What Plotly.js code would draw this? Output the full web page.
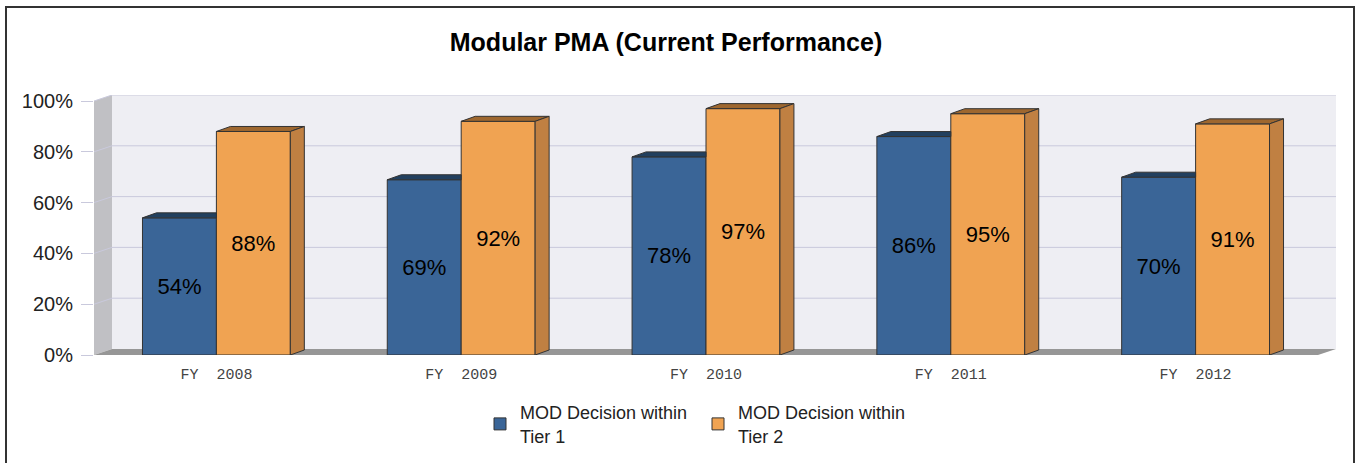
<!DOCTYPE html>
<html>
<head>
<meta charset="utf-8">
<script src="https://cdn.plot.ly/plotly-3.0.1.min.js"></script>
<style>
  body { margin: 0; background: #fff; }
  #chart { width: 1355px; height: 463px; }
  #frame { position: absolute; left: 5px; top: 6px; width: 1346px; height: 480px;
           border: 2px solid #333; pointer-events: none; }
</style>
</head>
<body>
<div id="chart"></div>
<div id="frame"></div>
<script>
// data
var years = ["FY  2008", "FY  2009", "FY  2010", "FY  2011", "FY  2012"];
var tier1 = [54, 69, 78, 86, 70];
var tier2 = [88, 92, 97, 95, 91];
var yTicks = [0, 20, 40, 60, 80, 100];

// fake 3d depth, in axis units
var barW = 0.302;
var wallDx = 18 / 244.8, wallDy = 6 / 2.54;
var barDx = 14 / 244.8, barDy = 5 / 2.54;
var xs = years.map(function (d, i) { return i; });
var x0 = -0.5, x1 = years.length - 0.5;
var yTop = yTicks[yTicks.length - 1];

var edge = "#333";

// top / side faces
var blueTopX = [], blueTopY = [], orTopX = [], orTopY = [], orSideX = [], orSideY = [];
xs.forEach(function (c, i) {
  var a = tier1[i], b = tier2[i];
  blueTopX.push(c - barW, c - barW + barDx, c, c, c - barW, null);
  blueTopY.push(a, a + barDy, a + barDy, a, a, null);
  orTopX.push(c, c + barDx, c + barW + barDx, c + barW, c, null);
  orTopY.push(b, b + barDy, b + barDy, b, b, null);
  orSideX.push(c + barW, c + barW + barDx, c + barW + barDx, c + barW, c + barW, null);
  orSideY.push(0, barDy, b + barDy, b, 0, null);
});

function face(x, y, fill) {
  return { x: x, y: y, type: "scatter", mode: "lines", fill: "toself", fillcolor: fill,
           line: { color: edge, width: 1 }, hoverinfo: "skip", showlegend: false };
}

var data = [
  {
    name: "MOD Decision within<br>Tier 1", type: "bar", x: xs, y: tier1,
    width: barW, offset: -barW,
    marker: { color: "#3a6597", line: { color: edge, width: 1 } },
    text: tier1.map(function (v) { return v + "%"; }),
    textposition: "inside", insidetextanchor: "middle", textangle: 0,
    textfont: { family: "Liberation Sans, Arial", size: 22, color: "#000" }
  },
  {
    name: "MOD Decision within<br>Tier 2", type: "bar", x: xs, y: tier2,
    width: barW, offset: 0,
    marker: { color: "#f0a352", line: { color: edge, width: 1 } },
    text: tier2.map(function (v) { return v + "%"; }),
    textposition: "inside", insidetextanchor: "middle", textangle: 0,
    textfont: { family: "Liberation Sans, Arial", size: 22, color: "#000" }
  },
  face(blueTopX, blueTopY, "#22405f"),
  face(orTopX, orTopY, "#9e672f"),
  face(orSideX, orSideY, "#c08042")
];

// walls, floor and back grid
var shapes = [
  { type: "rect", layer: "below", xref: "x", yref: "y",
    x0: x0 + wallDx, x1: x1 + wallDx, y0: wallDy, y1: yTop + wallDy,
    fillcolor: "#eeeef3", line: { width: 0 } },
  { type: "path", layer: "below", xref: "x", yref: "y",
    path: "M" + x0 + ",0L" + (x0 + wallDx) + "," + wallDy + "L" + (x0 + wallDx) + "," + (yTop + wallDy) +
          "L" + x0 + "," + yTop + "Z",
    fillcolor: "#c0c0c4", line: { width: 0 } },
  { type: "path", layer: "below", xref: "x", yref: "y",
    path: "M" + x0 + ",0L" + (x0 + wallDx) + "," + wallDy + "L" + (x1 + wallDx) + "," + wallDy +
          "L" + x1 + ",0Z",
    fillcolor: "#969696", line: { width: 0 } }
];
yTicks.forEach(function (t) {
  if (t === 0) return;
  shapes.push({ type: "path", layer: "below", xref: "x", yref: "y",
    path: "M" + x0 + "," + t + "L" + (x0 + wallDx) + "," + (t + wallDy) + "L" + (x1 + wallDx) + "," + (t + wallDy),
    line: { color: "#c9c9dc", width: 1 } });
});

var layout = {
  width: 1355, height: 463,
  margin: { l: 94, r: 19, t: 95, b: 108 },
  paper_bgcolor: "#fff", plot_bgcolor: "rgba(0,0,0,0)",
  title: { text: "Modular PMA (Current Performance)", x: 666 / 1355, xref: "container",
           y: 1 - 42 / 463, yref: "container", yanchor: "middle",
           font: { family: "Liberation Sans, Arial", size: 25, weight: "bold", color: "#000" } },
  xaxis: { range: [x0, x1 + wallDx], tickvals: xs, ticktext: years, showgrid: false,
           zeroline: false, showline: false, ticks: "", ticklabelstandoff: 8,
           tickfont: { family: "Liberation Mono, Courier New", size: 15, color: "#444" }, fixedrange: true },
  yaxis: { range: [0, yTop + wallDy], tickvals: yTicks, ticktext: yTicks.map(function (t) { return t + "%"; }),
           showgrid: false, zeroline: false, showline: false, ticks: "outside", ticklen: 12,
           tickcolor: "#c9c9dc", ticklabelstandoff: 4,
           tickfont: { family: "Liberation Sans, Arial", size: 20, color: "#222" }, fixedrange: true },
  shapes: shapes,
  showlegend: true,
  legend: { orientation: "h", xref: "container", x: 698 / 1355, xanchor: "center",
            yref: "container", y: 1 - 394 / 463, yanchor: "top", entrywidth: 173,
            font: { family: "Liberation Sans, Arial", size: 18, color: "#222" } }
};

Plotly.newPlot("chart", data, layout, { displayModeBar: false, staticPlot: true });
</script>
</body>
</html>
